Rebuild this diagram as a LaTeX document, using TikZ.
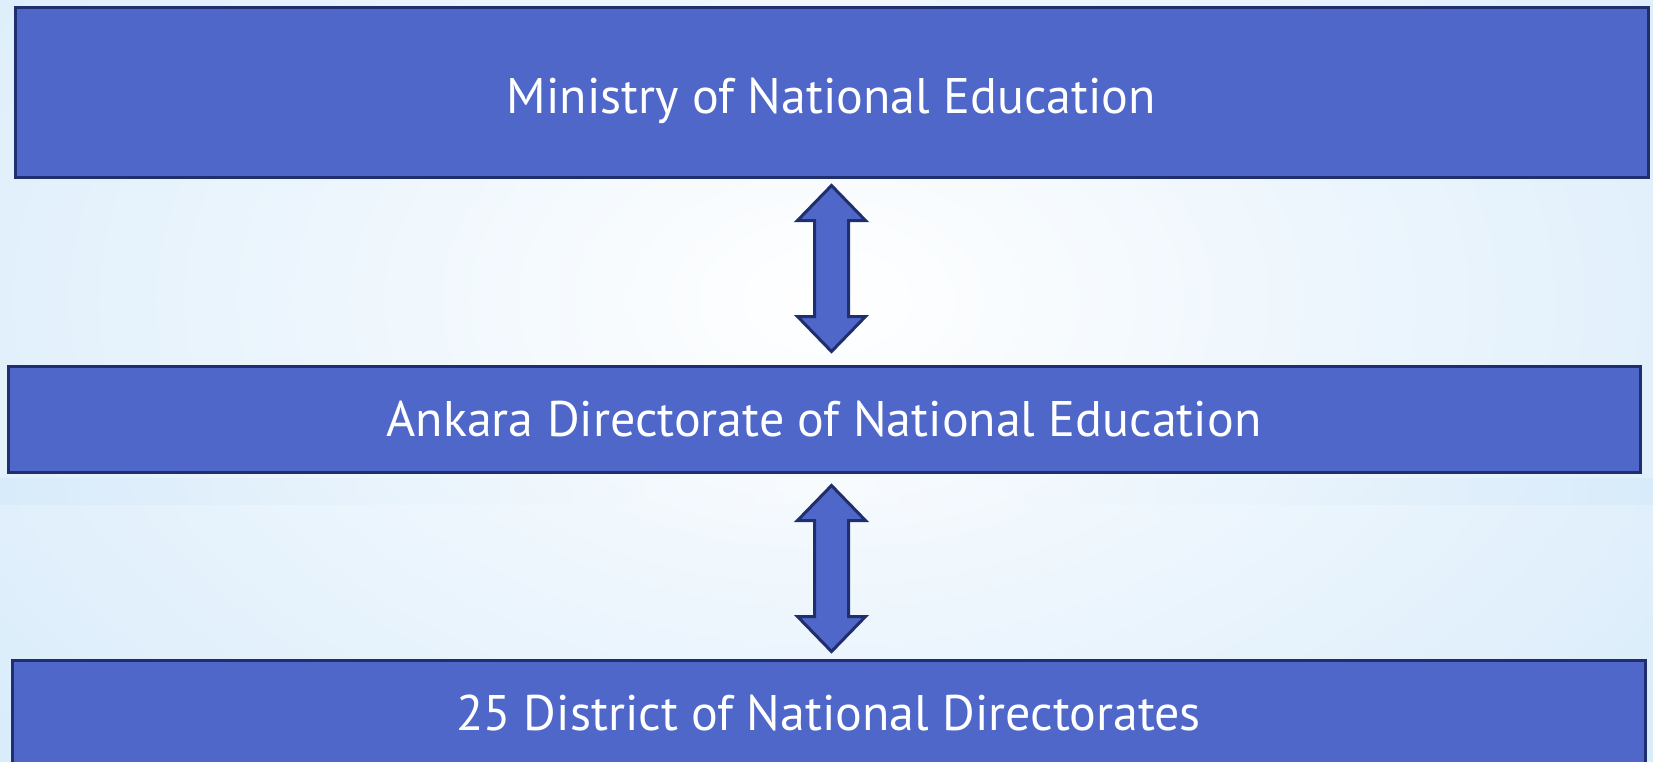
\documentclass[tikz,border=0pt]{standalone}
\usepackage{fontspec}
\setmainfont{PT Sans}
\usetikzlibrary{calc}

\definecolor{boxblue}{HTML}{4F67C8}
\definecolor{boxline}{HTML}{1F2E6E}
\definecolor{skyblue}{HTML}{C6E2F8}

\begin{document}
\begin{tikzpicture}[x=0.5pt,y=-0.5pt]
    \tikzstyle{level}=[rectangle,fill=boxblue,draw=boxline,line width=1.5pt,
        text=white,font=\fontsize{25}{30}\selectfont,inner sep=0pt]
    \tikzstyle{updown}=[fill=boxblue,draw=boxline,line width=1.5pt,line join=miter]

    % Background
    \useasboundingbox (0,0) rectangle (1653,761);
    \begin{scope}
        \clip (0,0) rectangle (1653,761);
        \fill[skyblue] (0,0) rectangle (1653,761);
        \shade[inner color=white,outer color=skyblue] (-800,-750) rectangle (2453,1350);
        \shade[left color=skyblue,right color=skyblue,middle color=white,opacity=0.3] (0,478) rectangle (1653,504);
    \end{scope}

    % Draw the three levels
    \node[level,minimum width=816.5pt,minimum height=85pt,text height=26pt,text depth=5pt] (mone) at (831.5,92) {Ministry of National Education};
    \node[level,minimum width=816pt,minimum height=53pt] (mdir) at (824,419) {Ankara Directorate of National Education};
    \node[level,minimum width=816.5pt,minimum height=53pt] (mdist) at (828.5,713) {25 District of National Directorates};

    % Connect each level with the next one
    \foreach \from/\to/\gtop/\gbot in {mone/mdir/7/13, mdir/mdist/12/7}
    {
        \coordinate (t-\from) at ($(mone.south |- \from.south)+(0,\gtop)$);
        \coordinate (b-\from) at ($(t-\from |- \to.north)+(0,-\gbot)$);
        \draw[updown] (t-\from) -- ++(34,35) -- ++(-17,0) -- ($(b-\from)+(17,-35)$)
            -- ++(17,0) -- (b-\from) -- ++(-34,-35) -- ++(17,0)
            -- ($(t-\from)+(-17,35)$) -- ++(-17,0) -- cycle;
    }
\end{tikzpicture}
\end{document}
